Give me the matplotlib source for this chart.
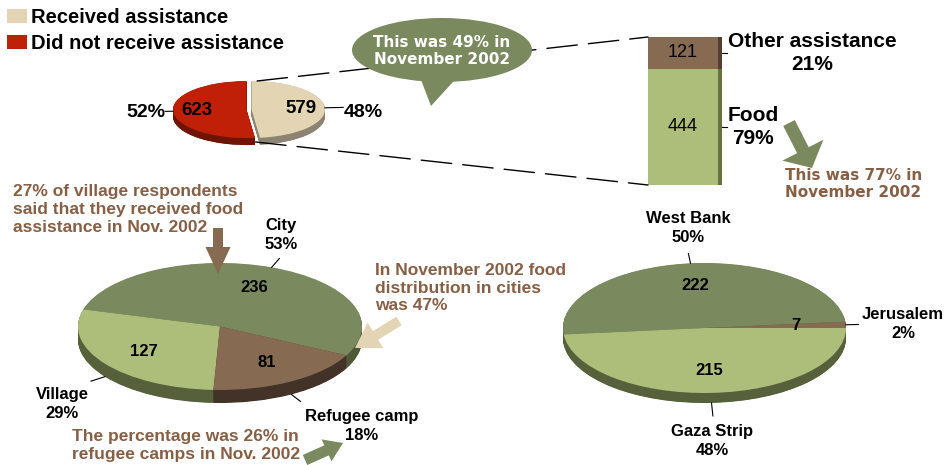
import numpy as np
import matplotlib
matplotlib.use('Agg')
import matplotlib.pyplot as plt
from matplotlib.patches import Ellipse, Polygon, FancyArrow, ConnectionPatch

plt.rcParams['font.family'] = ['Liberation Sans', 'DejaVu Sans']

W, H = 949, 465

# data
assist_labels = ['Did not receive assistance', 'Received assistance']
assist_values = [623, 579]
type_labels = ['Food', 'Other assistance']
type_values = [444, 121]
locality_labels = ['City', 'Village', 'Refugee camp']
locality_values = [236, 127, 81]
region_labels = ['Jerusalem', 'West Bank', 'Gaza Strip']
region_values = [7, 222, 215]

# colours
OLIVE = '#7b8a5e'
LIGHT = '#adbd7a'
BROWN = '#866a52'
CREAM = '#e3d4b4'
RED = '#c02008'
TXT_BROWN = '#875f45'
BOLD = dict(weight='bold')

fig = plt.figure(figsize=(W / 100, H / 100), dpi=100)


def pct(values):
    return [round(100 * v / sum(values)) for v in values]


def pie_axes(cx, cy, a, b, d):
    # axes that maps the unit circle on an ellipse (pixel geometry of the picture)
    return fig.add_axes([(cx - a) / W, (H - cy - b - d) / H, 2 * a / W, (2 * b + d) / H])


def pie3d(ax, values, colors, sides, start, depth, explode=None, numsize=12, pctdist=0.66):
    # fake 3d: stack darker copies of the pie below the top one
    for k in np.linspace(depth, 0, 26)[:-1]:
        ax.pie(values, colors=sides, startangle=start, center=(0, -k), explode=explode,
               wedgeprops=dict(linewidth=0))
    wedges, _, nums = ax.pie(values, colors=colors, startangle=start, explode=explode,
                             autopct=lambda p: f'{p * sum(values) / 100:.0f}',
                             pctdistance=pctdist, wedgeprops=dict(linewidth=0),
                             textprops=dict(fontsize=numsize, fontweight='bold'))
    ax.set_aspect('auto')
    ax.set_xlim(-1, 1)
    ax.set_ylim(-1 - depth, 1)
    ax.axis('off')
    return wedges


def leaders(ax, values, start, dr, depth, explode=None):
    v = np.array(values, float)
    ang = np.deg2rad(start + 360 * (np.cumsum(v) - v / 2) / v.sum())
    for i, t in enumerate(ang):
        e = explode[i] if explode else 0
        dy = -depth if np.sin(t) < -0.3 else 0
        r0, r1 = 1 + e, 1 + e + dr[i]
        ax.plot([r0 * np.cos(t), r1 * np.cos(t)], [r0 * np.sin(t) + dy, r1 * np.sin(t) + dy],
                color='black', lw=0.8, clip_on=False)


# top pie: received / did not receive
axt = pie_axes(249, 109.5, 73.5, 28.5, 7)
exp = [0.034, 0.034]
wt = pie3d(axt, assist_values, [RED, CREAM], ['#6e1405', '#8c8470'], 90, 7 / 28.5,
           explode=exp, numsize=13.5, pctdist=0.68)
leaders(axt, assist_values, 90, [0.11, 0.25], 0, explode=exp)

# bottom left pie: locality
axl = pie_axes(220, 326.5, 142, 63.5, 13)
pie3d(axl, locality_values, [OLIVE, LIGHT, BROWN], ['#4e5836', '#56613c', '#433228'],
      -27, 13 / 63.5)
leaders(axl, locality_values, -27, [0.15, 0.12, 0.13], 13 / 63.5)

# bottom right pie: region
axr = pie_axes(704.5, 328, 141.5, 65, 10)
pie3d(axr, region_values, [BROWN, OLIVE, LIGHT], ['#433228', '#4e5836', '#56613c'],
      0, 10 / 65, pctdist=0.65)
leaders(axr, region_values, 0, [0.09, 0.15, 0.2], 10 / 65)

# stacked bar: type of assistance
axb = fig.add_axes([648 / W, (H - 185) / H, 74 / W, 148 / H])
bottoms = np.concatenate([[0], np.cumsum(type_values)[:-1]])
axb.bar(0, type_values, bottom=bottoms, width=1, color=[LIGHT, BROWN])
axb.bar(0.5, type_values, bottom=bottoms, width=0.057, align='edge', color=['#66723f', '#54402f'])
axb.set_xlim(-0.5, 0.557)
axb.set_ylim(0, sum(type_values))
axb.axis('off')
for lab, v, b, p in zip(type_labels, type_values, bottoms, pct(type_values)):
    axb.text(0, b + v / 2, str(v), ha='center', va='center', fontsize=13)
    axb.plot([0.557, 0.63], [b + v / 2] * 2, color='black', lw=0.8, clip_on=False)
    axb.text(0.64, b + v / 2, f'{lab}\n{p}%', ha='left', va='center', multialignment='center',
             fontsize=15, linespacing=1.3, **BOLD)

# overlay in pixel coordinates for the annotations
ax = fig.add_axes([0, 0, 1, 1])
ax.set_xlim(0, W)
ax.set_ylim(H, 0)
ax.axis('off')
ax.patch.set_visible(False)

for xa, xb in [((0.11, 1.0), (-0.5, sum(type_values))), ((0.09, -1.14), (-0.5, 0))]:
    con = ConnectionPatch(xyA=xa, coordsA=axt.transData, xyB=xb, coordsB=axb.transData,
                          color='black', lw=1, linestyle=(0, (22, 8)), zorder=1)
    ax.add_artist(con)

# legend
ax.legend(handles=[wt[1], wt[0]], labels=[assist_labels[1], assist_labels[0]],
          loc='upper left', bbox_to_anchor=(7, 8), bbox_transform=ax.transData,
          frameon=False, prop=dict(size=14.5, weight='bold'), handlelength=1.0,
          handleheight=0.65, handletextpad=0.2, labelspacing=0.35, borderpad=0,
          borderaxespad=0)

# percentages of the top pie
p_top = pct(assist_values)
ax.text(165, 112, f'{p_top[0]}%', ha='right', va='center', fontsize=14, **BOLD)
ax.text(344, 112, f'{p_top[1]}%', ha='left', va='center', fontsize=14, **BOLD)

# labels of the lower pies
for lab, p, xy in zip(locality_labels, pct(locality_values), [(281, 235), (62, 404), (362, 426)]):
    ax.text(*xy, f'{lab}\n{p}%', ha='center', va='center', fontsize=12, linespacing=1.32, **BOLD)
for lab, p, xy in zip(region_labels, pct(region_values), [(903, 324), (688, 228), (712, 441)]):
    ax.text(*xy, f'{lab}\n{p}%', ha='center', va='center', fontsize=12, linespacing=1.32, **BOLD)

# speech bubble
ax.add_patch(Ellipse((442, 50), 180, 64, color=OLIVE, lw=0, zorder=3))
ax.add_patch(Polygon([(418, 72), (462, 72), (431, 106)], closed=True, color=OLIVE, lw=0, zorder=3))
ax.text(442, 51, 'This was 49% in\nNovember 2002', ha='center', va='center', color='white',
        fontsize=11, family='DejaVu Sans', linespacing=1.1, zorder=4, **BOLD)

# block arrows
arrows = [
    (789, 123, 23, 45, 13, 46, 20, OLIVE),
    (218, 228, 0, 46, 10, 25, 27, BROWN),
    (399, 321, -44, 27, 10, 30, 24, CREAM),
    (305, 460, 38, -17, 11, 24, 18, OLIVE),
]
for x, y, dx, dy, w, hw, hl, c in arrows:
    ax.add_patch(FancyArrow(x, y, dx, dy, width=w, head_width=hw, head_length=hl,
                            length_includes_head=True, color=c, lw=0, zorder=3))

# brown notes
ax.text(785, 184, 'This was 77% in\nNovember 2002', ha='left', va='center', color=TXT_BROWN,
        fontsize=11, family='DejaVu Sans', linespacing=1.15, **BOLD)
note = dict(ha='left', va='center', color=TXT_BROWN, fontsize=12.5, linespacing=1.22, **BOLD)
ax.text(13, 209.5, '27% of village respondents\nsaid that they received food\nassistance in Nov. 2002', **note)
ax.text(375, 288, 'In November 2002 food\ndistribution in cities\nwas 47%', **note)
ax.text(72, 445.5, 'The percentage was 26% in\nrefugee camps in Nov. 2002', **note)

fig.savefig('out.png', dpi=100)
